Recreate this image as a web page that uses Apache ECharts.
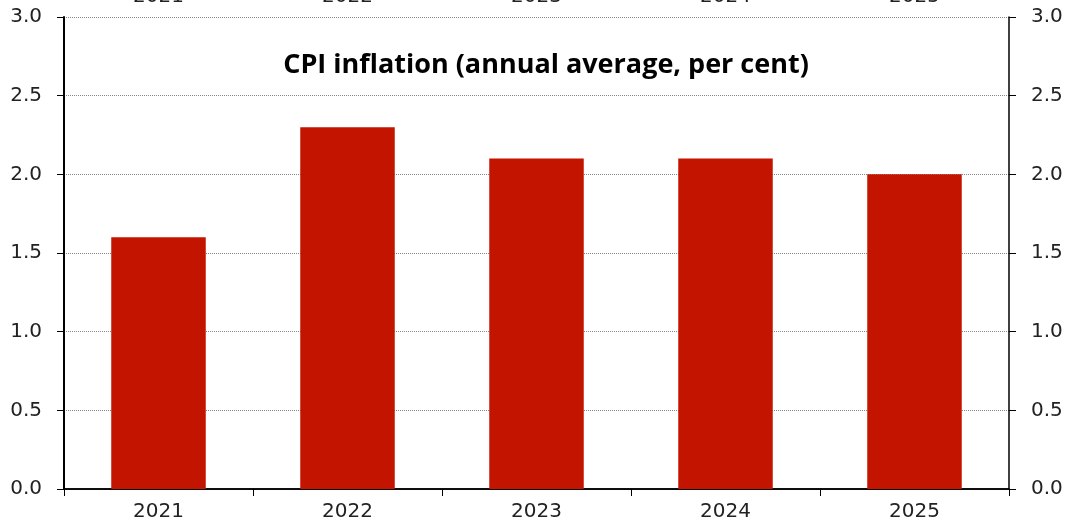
<!DOCTYPE html>
<html>
<head>
<meta charset="utf-8">
<script src="https://cdn.jsdelivr.net/npm/echarts@6/dist/echarts.min.js"></script>
<style>html,body{margin:0;padding:0;background:#fff}#c{width:1070px;height:526px}</style>
</head>
<body>
<div id="c"></div>
<script>
const categories = ['2021', '2022', '2023', '2024', '2025'];
const cpiValues = [1.6, 2.3, 2.1, 2.1, 2.0];
const titleText = 'CPI inflation (annual average, per cent)';

const chart = echarts.init(document.getElementById('c'), null, {renderer: 'canvas'});
const font = '"DejaVu Sans", "Open Sans", sans-serif';
const titleFont = '"Open Sans", "Noto Sans", sans-serif';
const yAxisCommon = {
  type: 'value', min: 0, max: 3, interval: 0.5,
  axisLine: {show: true, lineStyle: {color: '#000', width: 2}},
  axisTick: {show: true, inside: false, length: 7, lineStyle: {color: '#000', width: 1}},
  axisLabel: {formatter: v => v.toFixed(1), fontSize: 20, color: '#222', fontFamily: font, margin: 22}
};
chart.setOption({
  animation: false,
  title: {text: titleText, left: 541, top: 47, textAlign: 'center',
    textStyle: {fontSize: 27, fontWeight: 'bold', color: '#000', fontFamily: titleFont}},
  grid: {left: 64, right: 61, top: 17, bottom: 37, containLabel: false, outerBoundsMode: 'none'},
  xAxis: [
    {type: 'category', data: categories, position: 'bottom',
     axisLine: {show: true, lineStyle: {color: '#000', width: 1.5}},
     axisTick: {show: true, alignWithLabel: false, length: 7, lineStyle: {color: '#000'}},
     axisLabel: {fontSize: 20, color: '#222', fontFamily: font, margin: 13}},
    {type: 'category', data: categories, position: 'top',
     axisLine: {show: true, lineStyle: {color: '#000', width: 1.5}},
     axisTick: {show: false},
     axisLabel: {fontSize: 20, color: '#222', fontFamily: font, margin: 10}}
  ],
  yAxis: [
    Object.assign({}, yAxisCommon, {position: 'left',
      splitLine: {show: true, lineStyle: {color: '#888', type: 'dotted', width: 1}}}),
    Object.assign({}, yAxisCommon, {position: 'right', splitLine: {show: false},
      axisLine: {show: true, lineStyle: {color: '#000', width: 1.5}}})
  ],
  series: [{
    type: 'bar', data: cpiValues, xAxisIndex: 0, yAxisIndex: 0,
    barWidth: '50%', itemStyle: {color: '#C31400'}
  }]
});
</script>
</body>
</html>
